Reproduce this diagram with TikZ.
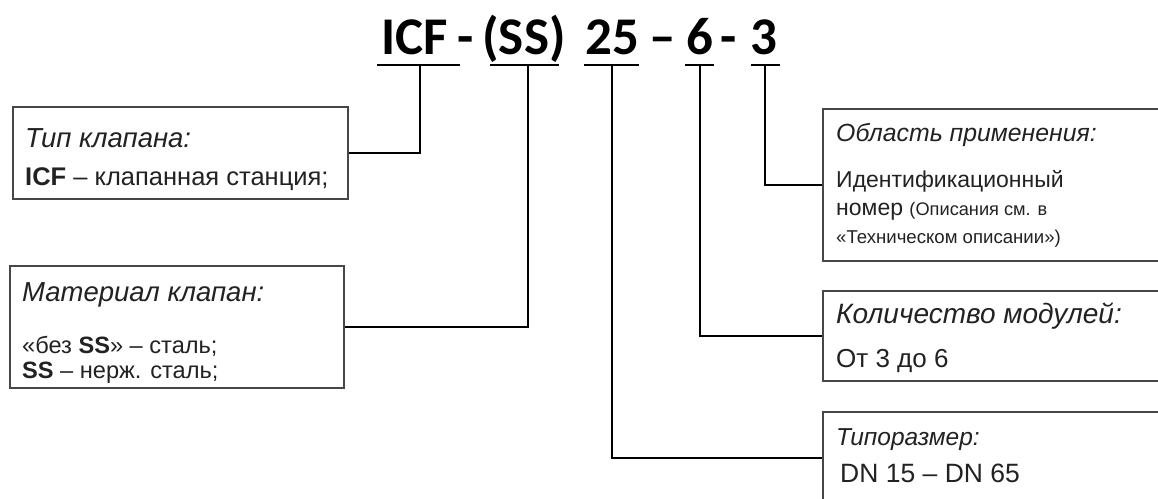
\documentclass[tikz,border=0pt]{standalone}
\usepackage{fontspec}
\setmainfont{Liberation Sans}
\newfontfamily\calib{Carlito}
\definecolor{boxgray}{HTML}{474747}
\definecolor{txtgray}{HTML}{222222}
\newcommand{\fsz}[1]{\fontsize{#1}{#1}\selectfont}
\begin{document}
\begin{tikzpicture}[x=1pt,y=-1pt,
  ttl/.style={font=\calib\bfseries\fontsize{53}{60}\selectfont, inner sep=0, anchor=base, text=black},
  boxnode/.style={draw=boxgray, line width=1.7pt, anchor=north west, inner sep=0, fill=white},
  hd/.style={font=\itshape, text=txtgray, anchor=base west, inner sep=0},
  bd/.style={text=txtgray, anchor=base west, inner sep=0},
  conn/.style={line width=2pt, black},
  uline/.style={line width=2pt, black}]
\useasboundingbox (0,0) rectangle (1158,498);
\clip (0,0) rectangle (1158,498);
\fill[white] (0,0) rectangle (1158,498);
% title parts
\node[ttl] (tICF) at (415,54) {ICF};
\node[ttl] (td1) at (466,54) {-};
\node[ttl] (tSS) at (524,54) {(SS)};
\node[ttl] (t25) at (612,54) {25};
\node[ttl] (td2) at (663,54) {–};
\node[ttl] (t6) at (700,54) {6};
\node[ttl] (td3) at (729,54) {-};
\node[ttl] (t3) at (764,54) {3};
% underline tick points
\coordinate (uICF) at (420,65);
\coordinate (uSS) at (528,65);
\coordinate (u25) at (612,65);
\coordinate (u6) at (700,65);
\coordinate (u3) at (765,65);
\draw[uline] (377,65) -- (460,65);
\draw[uline] (490,65) -- (559,65);
\draw[uline] (584,65) -- (639,65);
\draw[uline] (685,65) -- (714,65);
\draw[uline] (751,65) -- (780,65);
% boxes
\node[boxnode, minimum width=335pt, minimum height=92pt] (b1) at (12,106) {};
\node[boxnode, minimum width=334pt, minimum height=122pt] (b2) at (9,265) {};
\node[boxnode, minimum width=400pt, minimum height=152pt] (b4) at (822,108) {};
\node[boxnode, minimum width=400pt, minimum height=90pt] (b5) at (822,290) {};
\node[boxnode, minimum width=400pt, minimum height=92pt] (b6) at (822,411) {};
% connectors
\draw[conn] (uICF) |- (b1.east);
\draw[conn] (uSS) |- (b2.east);
\draw[conn] (u3) |- (b4.west);
\draw[conn] (u6) |- (b5.west);
\draw[conn] (u25) |- (b6.west);
% box texts
\node[hd, font=\itshape\fsz{27.5}] (b1h) at (25,147) {Тип клапана:};
\node[bd, font=\fsz{25.5}] (b1t) at (25,185) {{\bfseries ICF} – клапанная станция;};
\node[hd, font=\itshape\fsz{27.5}] (b2h) at (22,301) {Материал клапан:};
\node[bd, font=\fsz{23.6}] (b2t) at (22,353) {«без {\bfseries SS}» – сталь;};
\node[bd, font=\fsz{23.6}] (b2u) at (22,378) {{\bfseries SS} – нерж. сталь;};
\node[hd, font=\itshape\fsz{24.8}] (b4h) at (836,141) {Область применения:};
\node[bd, font=\fsz{23}] (b4a) at (836,187) {Идентификационный};
\node[bd, font=\fsz{23}] (b4b) at (836,215) {номер {\fsz{18.2}(Описания см. в}};
\node[bd, font=\fsz{18.6}] (b4c) at (836,243) {«Техническом описании»)};
\node[hd, font=\itshape\fsz{28}] (b5h) at (836,323) {Количество модулей:};
\node[bd, font=\fsz{26}] (b5t) at (836,367) {От 3 до 6};
\node[hd, font=\itshape\fsz{24.5}] (b6h) at (836,445) {Типоразмер:};
\node[bd, font=\fsz{26.5}] (b6t) at (840,482) {DN 15 – DN 65};
\end{tikzpicture}
\end{document}
